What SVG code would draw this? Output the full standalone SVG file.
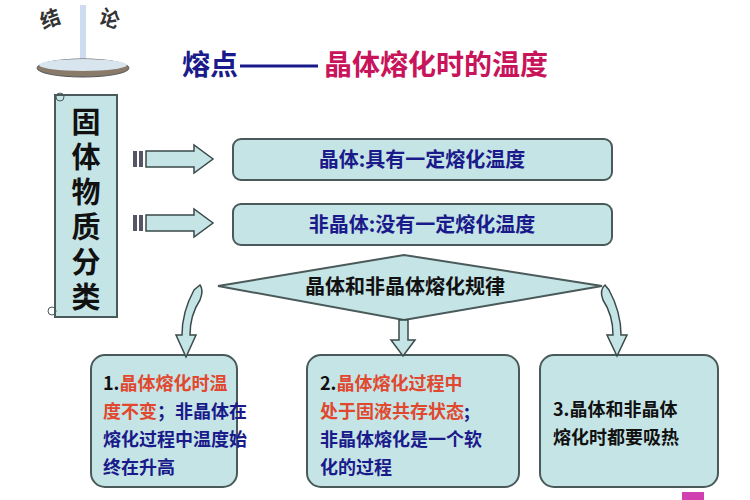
<svg xmlns="http://www.w3.org/2000/svg" width="750" height="500" viewBox="0 0 750 500">
<defs>
<style>
.t{font-family:"Noto Sans CJK SC","Liberation Sans",sans-serif;font-weight:bold}
.box{fill:#c5e4e6;stroke:#4a5a5a;stroke-width:2}
.arr{fill:#c5e4e6;stroke:#3a4a4a;stroke-width:1.5}
.n{fill:#1a1a8a}.r{fill:#e04830}.k{fill:#111}
</style>
</defs>
<rect width="750" height="500" fill="#fff"/>
<g id="ornament">
<text class="t" x="40" y="26" font-size="20" fill="#333" transform="rotate(-20 50 18)">结</text>
<text class="t" x="100" y="26" font-size="20" fill="#333" transform="rotate(20 110 18)">论</text>
<rect x="80" y="5" width="6" height="55" fill="#b8cde8" opacity="0.7"/>
<ellipse cx="83" cy="68" rx="46" ry="9" fill="#8a7a6a" stroke="#555"/>
<ellipse cx="83" cy="65" rx="44" ry="6" fill="#d8e4ee"/>
</g>
<g id="title">
<text class="t" x="182" y="75" font-size="28" fill="#1a1a8a">熔点</text>
<line x1="240" y1="66" x2="318" y2="66" stroke="#1a1a8a" stroke-width="3"/>
<text class="t" x="324" y="75" font-size="28" fill="#c8145a">晶体熔化时的温度</text>
</g>
<g id="scroll">
<rect class="box" x="55" y="95" width="62" height="222" stroke-width="1.5"/>
<circle cx="60" cy="97" r="4" fill="none" stroke="#4a5a5a"/>
<circle cx="52" cy="311" r="4" fill="none" stroke="#4a5a5a"/>
<g class="t k" font-size="29" text-anchor="middle" font-weight="normal">
<text x="86" y="133">固</text><text x="86" y="168">体</text><text x="86" y="203">物</text>
<text x="86" y="238">质</text><text x="86" y="273">分</text><text x="86" y="308">类</text>
</g>
</g>
<g id="box1">
<rect class="box" x="233" y="139" width="379" height="41" rx="8"/>
<text class="t n" x="422" y="167" font-size="20" text-anchor="middle">晶体:具有一定熔化温度</text>
</g>
<g id="box2">
<rect class="box" x="233" y="204" width="379" height="41" rx="8"/>
<text class="t n" x="422" y="232" font-size="20" text-anchor="middle">非晶体:没有一定熔化温度</text>
</g>
<g id="diamond">
<polygon class="box" points="218,286 404,255 602,286 404,320"/>
<text class="t k" x="405" y="294" font-size="20" text-anchor="middle">晶体和非晶体熔化规律</text>
</g>
<g id="boxA">
<rect class="box" x="91" y="355" width="146" height="132" rx="14"/>
<g class="t" font-size="18">
<text x="103" y="390"><tspan class="k">1.</tspan><tspan class="r">晶体熔化时温</tspan></text>
<text x="103" y="418"><tspan class="r">度不变</tspan><tspan class="n">；非晶体在</tspan></text>
<text x="103" y="446" class="n">熔化过程中温度始</text>
<text x="103" y="474" class="n">终在升高</text>
</g>
</g>
<g id="boxB">
<rect class="box" x="307" y="355" width="212" height="132" rx="14"/>
<g class="t" font-size="18">
<text x="320" y="390"><tspan class="k">2.</tspan><tspan class="r">晶体熔化过程中</tspan></text>
<text x="320" y="418"><tspan class="r">处于固液共存状态</tspan><tspan class="n">;</tspan></text>
<text x="320" y="446" class="n">非晶体熔化是一个软</text>
<text x="320" y="474" class="n">化的过程</text>
</g>
</g>
<g id="boxC">
<rect class="box" x="540" y="355" width="178" height="132" rx="14"/>
<g class="t k" font-size="18">
<text x="553" y="416">3.晶体和非晶体</text>
<text x="553" y="444">熔化时都要吸热</text>
</g>
</g>
<g id="connectors">
<rect x="133" y="151" width="4" height="16" fill="#556"/><rect x="139" y="151" width="4" height="16" fill="#556"/>
<polygon class="arr" points="146,151 194,151 194,145 213,159 194,173 194,167 146,167"/>
<rect x="133" y="215" width="4" height="16" fill="#556"/><rect x="139" y="215" width="4" height="16" fill="#556"/>
<polygon class="arr" points="146,215 194,215 194,209 213,223 194,237 194,231 146,231"/>
<path class="arr" d="M200,285 Q204,290 200,300 Q190,315 190,335 L196,335 L186,357 L176,335 L182,335 Q182,312 194,290 Z"/>
<polygon class="arr" points="399,320 408,320 408,340 415,340 403,356 391,340 399,340"/>
<path class="arr" d="M605,285 Q599,290 603,300 Q613,315 613,335 L607,335 L617,356 L627,335 L621,335 Q621,312 609,290 Z"/>
</g>
<rect x="682" y="492" width="22" height="8" fill="#d040b0"/>
</svg>
